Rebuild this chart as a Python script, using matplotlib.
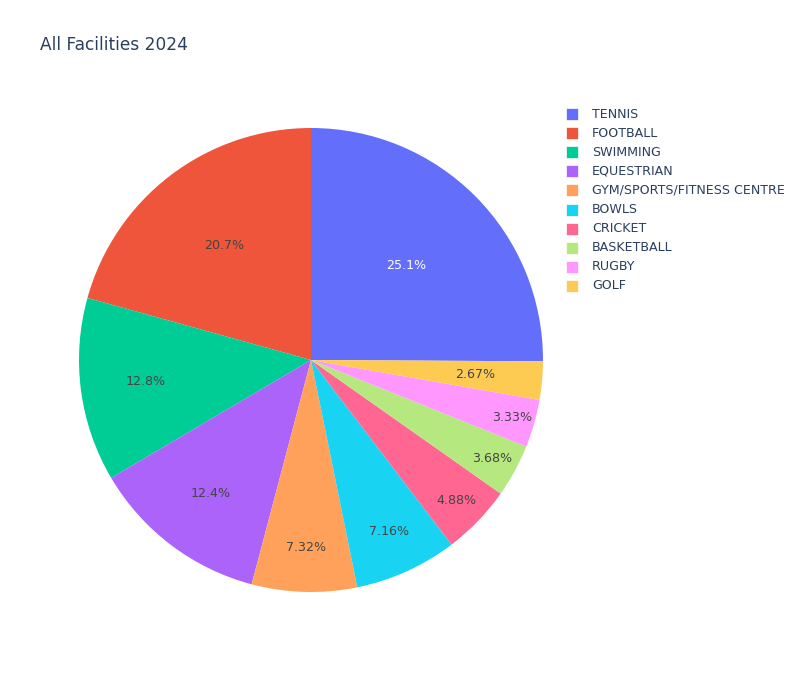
import matplotlib
matplotlib.use("Agg")
import matplotlib.pyplot as plt
from matplotlib.patches import Rectangle
import numpy as np

categories = ["TENNIS", "FOOTBALL", "SWIMMING", "EQUESTRIAN", "GYM/SPORTS/FITNESS CENTRE",
              "BOWLS", "CRICKET", "BASKETBALL", "RUGBY", "GOLF"]
shares = [25.1, 20.7, 12.8, 12.4, 7.32, 7.16, 4.88, 3.68, 3.33, 2.67]
pct_labels = ["25.1%", "20.7%", "12.8%", "12.4%", "7.32%", "7.16%", "4.88%", "3.68%", "3.33%", "2.67%"]

colors = ["#636efa", "#EF553B", "#00cc96", "#ab63fa", "#FFA15A",
          "#19d3f3", "#FF6692", "#B6E880", "#FF97FF", "#FECB52"]
label_radius = [0.58, 0.62, 0.72, 0.72, 0.81, 0.81, 0.87, 0.89, 0.90, 0.71]
text_colors = ["white"] + ["#444444"] * 9

plt.rcParams['font.family'] = ['DejaVu Sans']
W, H = 800, 700
fig = plt.figure(figsize=(W / 100, H / 100), dpi=100)

cx, cy, R = 311, 360, 232
ax = fig.add_axes([(cx - R) / W, (H - cy - R) / H, 2 * R / W, 2 * R / H])

total = sum(shares)
start = 90 - 360 * shares[0] / total
wedges, _ = ax.pie(shares, colors=colors, startangle=start, counterclock=True,
                   radius=1.0, wedgeprops=dict(linewidth=0))
ax.set_xlim(-1, 1)
ax.set_ylim(-1, 1)
ax.set_aspect("equal")
ax.axis("off")

small = 9.1
for w, lab, r, tc in zip(wedges, pct_labels, label_radius, text_colors):
    ang = np.deg2rad((w.theta1 + w.theta2) / 2)
    ax.text(r * np.cos(ang), r * np.sin(ang), lab, ha="center", va="center",
            fontsize=small, color=tc)

fig.text(40 / W, 1 - 45 / H, "All Facilities 2024", fontsize=17 * 0.72,
         color="#2a3f5f", ha="left", va="center")

for i, (cat, col) in enumerate(zip(categories, colors)):
    yc = 114 + i * 19.1
    fig.patches.append(Rectangle((566 / W, 1 - (yc + 6) / H), 12 / W, 12 / H,
                                 transform=fig.transFigure, facecolor=col,
                                 edgecolor="white", linewidth=0.5))
    fig.text(592 / W, 1 - yc / H, cat, fontsize=small, color="#2a3f5f",
             ha="left", va="center")

fig.savefig("out.png", dpi=100)
